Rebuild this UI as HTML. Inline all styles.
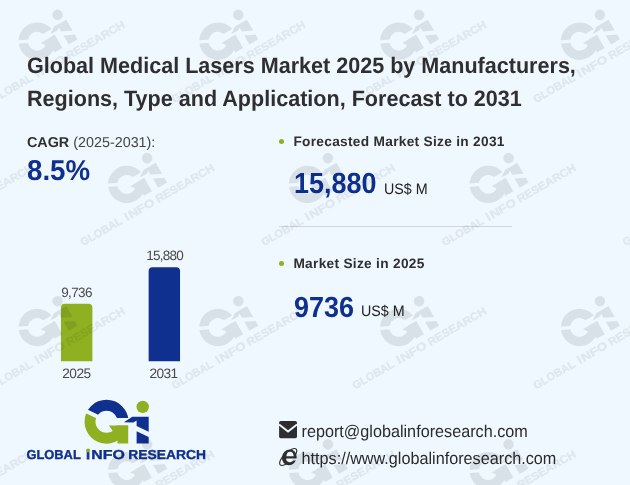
<!DOCTYPE html>
<html><head><meta charset="utf-8">
<style>
html,body{margin:0;padding:0;}
body{width:630px;height:485px;overflow:hidden;background:#f0f8ff;text-rendering:geometricPrecision;font-family:"Liberation Sans",sans-serif;position:relative;}
.abs{position:absolute;white-space:nowrap;}
.title{left:27px;font-size:21.57px;font-weight:bold;color:#2f2f2f;line-height:33px;transform:scaleY(1.035);transform-origin:0 72.5%;}
.cagr{left:27px;top:134px;font-size:14.35px;color:#444;transform:translateY(0.7px);}
.cagr b{color:#2f2f2f;}
.pct{left:27px;top:154px;transform:translateY(0.8px) scaleY(1.04);transform-origin:0 80%;font-size:27.7px;font-weight:bold;color:#10308f;}
.lbl{font-size:13.7px;font-weight:bold;color:#2f2f2f;letter-spacing:0.3px;}
.dot{width:5px;height:5px;border-radius:50%;background:#8fb021;}
.big{font-size:27px;font-weight:bold;color:#10308f;transform:translateY(0.2px) scaleY(1.08);transform-origin:0 80%;}
.unit{font-size:14.3px;color:#222;transform:scaleY(1.06);transform-origin:0 80%;}
.hr{left:279px;top:226px;width:233px;height:1px;background:#d4d6d8;}
.axis{font-size:13.5px;color:#484848;letter-spacing:-0.62px;text-align:center;}
.contact{font-size:16.22px;color:#2b2b2b;transform:translateY(0.6px) scaleY(1.05);transform-origin:0 80%;}
</style></head><body>
<svg width="0" height="0" style="position:absolute">
<defs>
<clipPath id="cb"><polygon points="80,406.1 105,418 135,418 135,395 80,395"/></clipPath>
<clipPath id="cg"><polygon points="80,410.4 111.7,425.5 135,425.5 135,450 80,450"/></clipPath>
<path id="ring" fill-rule="evenodd" d="M84.5,421.7a22,22 0 1,0 44,0a22,22 0 1,0 -44,0Z M95.5,421.7a11,11 0 1,1 22,0a11,11 0 1,1 -22,0Z"/>
<g id="lgB">
 <use href="#ring" clip-path="url(#cb)"/>
 <polygon points="132.3,416.8 148.7,416.8 148.7,431.7 136.6,425.9 136.6,420.4 133.3,422.6 123.9,422.3"/>
 <polygon points="136.6,431.2 148.7,437.1 148.7,443.6 136.6,443.6"/>
</g>
<g id="lgG">
 <use href="#ring" clip-path="url(#cg)"/>
 <polygon points="108.9,425.5 128.2,425.5 128.2,443.4 117.5,443.4 117.5,432 113.2,431.5"/>
 <circle cx="142.7" cy="406.9" r="6.2"/>
</g>
<g id="lgT" font-family="Liberation Sans, sans-serif" font-weight="bold" font-size="13">
 <text x="26.4" y="458.8" textLength="54.4" lengthAdjust="spacingAndGlyphs">GLOBAL</text>
 <text x="86.3" y="458.8" stroke-width="0.9">i</text>
 <text x="91.3" y="458.8" textLength="33.6" lengthAdjust="spacingAndGlyphs">NFO</text>
 <text x="128.3" y="458.8" textLength="77.6" lengthAdjust="spacingAndGlyphs">RESEARCH</text>
</g>
<g id="wmk">
  <use href="#lgB"/><use href="#lgG"/>
  <use href="#lgT" stroke="#000814" stroke-width="0.55" opacity="0.78" transform="translate(-0.8 0.4)"/>
</g>
</defs>
</svg>

<div class="abs title" style="top:49px">Global Medical Lasers Market 2025 by Manufacturers,</div>
<div class="abs title" style="top:82px">Regions, Type and Application, Forecast to 2031</div>
<div class="abs cagr"><b>CAGR</b> (2025-2031):</div>
<div class="abs pct">8.5%</div>

<div class="abs dot" style="left:279.2px;top:139px"></div>
<div class="abs lbl" style="left:293.4px;top:134px;transform:translateY(-0.4px)">Forecasted Market Size in 2031</div>
<div class="abs big" style="left:294px;top:169px">15,880</div>
<div class="abs unit" style="left:384px;top:182.2px">US$ M</div>
<div class="abs hr"></div>
<div class="abs dot" style="left:279.2px;top:261.1px"></div>
<div class="abs lbl" style="left:293.4px;top:256px;transform:translateY(-0.4px)">Market Size in 2025</div>
<div class="abs big" style="left:294px;top:292px;transform:translateY(0.8px) scaleY(1.08)">9736</div>
<div class="abs unit" style="left:361px;top:304.2px">US$ M</div>

<!-- bars -->
<div class="abs axis" style="left:55.5px;top:284.5px;width:42px;">9,736</div>
<div class="abs axis" style="left:143.6px;top:247.5px;width:42px;letter-spacing:-0.8px;">15,880</div>
<div class="abs axis" style="left:55.4px;top:366px;width:42px;font-size:13.7px;letter-spacing:-0.6px">2025</div>
<div class="abs axis" style="left:142.5px;top:366px;width:42px;font-size:13.7px;letter-spacing:-0.6px">2031</div>

<!-- logo -->
<svg class="abs" style="left:0;top:0" width="630" height="485" viewBox="0 0 630 485">
 <path d="M60.95,361.3 L60.95,307.5 Q60.95,303.7 64.75,303.7 L88.60000000000001,303.7 Q92.4,303.7 92.4,307.5 L92.4,361.3 Z" fill="#8fb021"/>
 <path d="M148.65,361.3 L148.65,271.0 Q148.65,267.2 152.45000000000002,267.2 L176.25,267.2 Q180.05,267.2 180.05,271.0 L180.05,361.3 Z" fill="#10308f"/>
 <use href="#lgB" fill="#10308f"/><use href="#lgG" fill="#8fb021"/>
 <use href="#lgT" fill="#10308f" stroke="#10308f" stroke-width="0.35"/><circle cx="88.1" cy="450.4" r="1.9" fill="#8fb021"/>
 <!-- envelope -->
 <g>
  <rect x="279.1" y="421.1" width="17.9" height="17.1" rx="1.6" fill="#2e2e2e"/>
  <polyline points="279.1,424.6 288.05,431.6 297,424.6" fill="none" stroke="#f0f8ff" stroke-width="1.9"/>
 </g>
 <!-- ie icon -->
 <g transform="translate(289.3 457.3)">
  <ellipse cx="-1.1" cy="-0.3" rx="11.2" ry="4.4" transform="rotate(-44.5 -1.1 -0.3)" fill="none" stroke="#2e2e2e" stroke-width="1.1"/>
  <g transform="skewX(-4)">
   <ellipse cx="0" cy="0" rx="7.4" ry="7.9" fill="#2e2e2e"/>
   <path d="M-3,-1.1 A3.6,4.4 0 0 1 4.2,-1.1 Z" fill="#f0f8ff"/>
   <path d="M-3,1.3 L7.7,1.3 L7.7,3.3 L4.3,3.1 A3.9,3.4 0 0 1 -3,1.3 Z" fill="#f0f8ff"/>
  </g>
 </g>
</svg>

<div class="abs contact" style="left:301.5px;top:422px">report@globalinforesearch.com</div>
<div class="abs contact" style="left:301.5px;top:449px">https://www.globalinforesearch.com</div>

<!-- watermark overlay -->
<svg class="abs" style="left:0;top:0;pointer-events:none" width="630" height="485" viewBox="0 0 630 485" fill="#000814" opacity="0.092">
<use href="#wmk" transform="translate(57.6 14.9) rotate(-30) scale(0.85) translate(-142.7 -406.9)"/>
<use href="#wmk" transform="translate(238.3 14.9) rotate(-30) scale(0.85) translate(-142.7 -406.9)"/>
<use href="#wmk" transform="translate(419.1 14.9) rotate(-30) scale(0.85) translate(-142.7 -406.9)"/>
<use href="#wmk" transform="translate(599.9 14.9) rotate(-30) scale(0.85) translate(-142.7 -406.9)"/>
<use href="#wmk" transform="translate(-33.7 158.1) rotate(-30) scale(0.85) translate(-142.7 -406.9)"/>
<use href="#wmk" transform="translate(147.1 158.1) rotate(-30) scale(0.85) translate(-142.7 -406.9)"/>
<use href="#wmk" transform="translate(327.9 158.1) rotate(-30) scale(0.85) translate(-142.7 -406.9)"/>
<use href="#wmk" transform="translate(508.6 158.1) rotate(-30) scale(0.85) translate(-142.7 -406.9)"/>
<use href="#wmk" transform="translate(689.4 158.1) rotate(-30) scale(0.85) translate(-142.7 -406.9)"/>
<use href="#wmk" transform="translate(57.6 301.2) rotate(-30) scale(0.85) translate(-142.7 -406.9)"/>
<use href="#wmk" transform="translate(238.3 301.2) rotate(-30) scale(0.85) translate(-142.7 -406.9)"/>
<use href="#wmk" transform="translate(419.1 301.2) rotate(-30) scale(0.85) translate(-142.7 -406.9)"/>
<use href="#wmk" transform="translate(599.9 301.2) rotate(-30) scale(0.85) translate(-142.7 -406.9)"/>
<use href="#wmk" transform="translate(-33.7 444.4) rotate(-30) scale(0.85) translate(-142.7 -406.9)"/>
<use href="#wmk" transform="translate(147.1 444.4) rotate(-30) scale(0.85) translate(-142.7 -406.9)"/>
<use href="#wmk" transform="translate(327.9 444.4) rotate(-30) scale(0.85) translate(-142.7 -406.9)"/>
<use href="#wmk" transform="translate(508.6 444.4) rotate(-30) scale(0.85) translate(-142.7 -406.9)"/>
<use href="#wmk" transform="translate(689.4 444.4) rotate(-30) scale(0.85) translate(-142.7 -406.9)"/>
<use href="#wmk" transform="translate(57.6 587.5) rotate(-30) scale(0.85) translate(-142.7 -406.9)"/>
<use href="#wmk" transform="translate(238.3 587.5) rotate(-30) scale(0.85) translate(-142.7 -406.9)"/>
<use href="#wmk" transform="translate(419.1 587.5) rotate(-30) scale(0.85) translate(-142.7 -406.9)"/>
<use href="#wmk" transform="translate(599.9 587.5) rotate(-30) scale(0.85) translate(-142.7 -406.9)"/>
</svg>
</body></html>
